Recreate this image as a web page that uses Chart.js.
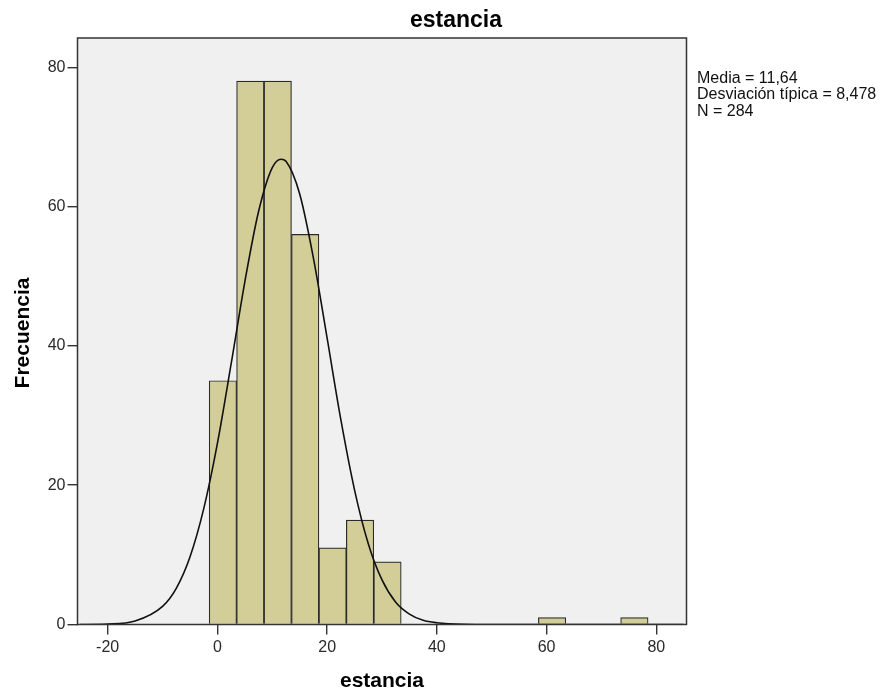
<!DOCTYPE html>
<html>
<head>
<meta charset="utf-8">
<script src="https://cdn.jsdelivr.net/npm/chart.js@4"></script>
<style>
  html, body { margin: 0; padding: 0; background: #ffffff; }
  #wrap { width: 880px; height: 692px; }
</style>
</head>
<body>
<div id="wrap"><canvas id="hist" width="880" height="692"></canvas></div>
<script>
// histogram bins (centres of 5-day bins) and frequencies
var binCenters = [1, 6, 11, 16, 21, 26, 31, 61, 76];
var frequencies = [35, 78, 78, 56, 11, 15, 9, 1, 1];

// normal curve
var curveX = [-25, -20, -15, -10, -7.5, -5, -2.5, 0, 2.5, 5, 7.5, 10, 11.6, 12.5, 15, 17.5, 20, 22.5, 25, 27.5, 30, 32.5, 35, 37.5, 40, 45, 50, 60, 70, 85];
var curveY = [0, 0.06, 0.5, 2.6, 5.2, 9.7, 16.6, 26, 37.4, 49.2, 59.3, 65.6, 66.8, 66.5, 61.8, 52.6, 41.1, 29.4, 19.3, 11.6, 6.4, 3.2, 1.5, 0.6, 0.25, 0.03, 0, 0, 0, 0];

var xTicks = [-20, 0, 20, 40, 60, 80];
var yTicks = [0, 20, 40, 60, 80];

var titleText = "estancia";
var xTitle = "estancia";
var yTitle = "Frecuencia";
var statsLines = ["Media = 11,64", "Desviación típica = 8,478", "N = 284"];

var barData = binCenters.map(function (c, i) { return { x: c, y: frequencies[i] }; });
var curveData = curveX.map(function (x, i) { return { x: x, y: curveY[i] }; });

var plotFrame = {
    id: 'plotFrame',
    beforeDatasetsDraw: function (chart) {
        var a = chart.chartArea, ctx = chart.ctx;
        ctx.save();
        ctx.fillStyle = '#f0f0f0';
        ctx.fillRect(a.left, a.top, a.right - a.left, a.bottom - a.top);
        ctx.restore();
    },
    afterDraw: function (chart) {
        var a = chart.chartArea, ctx = chart.ctx;
        ctx.save();
        ctx.strokeStyle = '#333333';
        ctx.lineWidth = 1.5;
        ctx.strokeRect(a.left, a.top, a.right - a.left, a.bottom - a.top);

        ctx.fillStyle = '#000000';
        ctx.textAlign = 'center';
        ctx.textBaseline = 'middle';
        ctx.font = 'bold 23px "Liberation Sans", Arial, sans-serif';
        ctx.fillText(titleText, 456, 21);

        ctx.font = 'bold 21px "Liberation Sans", Arial, sans-serif';
        ctx.fillText(xTitle, (a.left + a.right) / 2, 681);

        ctx.save();
        ctx.translate(23, 333);
        ctx.rotate(-Math.PI / 2);
        ctx.fillText(yTitle, 0, 0);
        ctx.restore();

        ctx.font = '16px "Liberation Sans", Arial, sans-serif';
        ctx.textAlign = 'left';
        ctx.fillStyle = '#111111';
        statsLines.forEach(function (line, i) {
            ctx.fillText(line, 697, 78.5 + i * 16.5);
        });
        ctx.restore();
    }
};

var ctx = document.getElementById('hist').getContext('2d');
new Chart(ctx, {
    type: 'bar',
    data: {
        datasets: [{
            type: 'line',
            data: curveData,
            borderColor: '#111111',
            borderWidth: 1.6,
            pointRadius: 0,
            fill: false,
            cubicInterpolationMode: 'monotone',
            order: 0
        }, {
            type: 'bar',
            data: barData,
            backgroundColor: '#d3ce97',
            borderColor: '#2b2b2b',
            borderWidth: 1.2,
            barPercentage: 1,
            categoryPercentage: 1,
            order: 1
        }]
    },
    options: {
        responsive: false,
        animation: false,
        layout: { padding: { top: 38, right: 193.5, left: 0, bottom: 0 } },
        plugins: { legend: { display: false }, tooltip: { enabled: false }, title: { display: false } },
        scales: {
            x: {
                type: 'linear',
                offset: false,
                min: -25.5,
                max: 85.5,
                afterBuildTicks: function (scale) {
                    scale.ticks = xTicks.map(function (v) { return { value: v }; });
                },
                afterFit: function (scale) { scale.height = 67.5; },
                grid: { offset: false, drawOnChartArea: false, drawTicks: true, tickLength: 10, color: '#333333', lineWidth: 1.4 },
                border: { display: false },
                ticks: {
                    color: '#2a2a2a',
                    font: { family: '"Liberation Sans", Arial, sans-serif', size: 16 },
                    padding: 3,
                    maxRotation: 0
                }
            },
            y: {
                min: 0,
                max: 84.2,
                afterBuildTicks: function (scale) {
                    scale.ticks = yTicks.map(function (v) { return { value: v }; });
                },
                afterFit: function (scale) { scale.width = 77.5; },
                grid: { drawOnChartArea: false, drawTicks: true, tickLength: 10, color: '#333333', lineWidth: 1.4 },
                border: { display: false },
                ticks: {
                    color: '#2a2a2a',
                    font: { family: '"Liberation Sans", Arial, sans-serif', size: 16 },
                    padding: 2
                }
            }
        }
    },
    plugins: [plotFrame]
});
</script>
</body>
</html>
